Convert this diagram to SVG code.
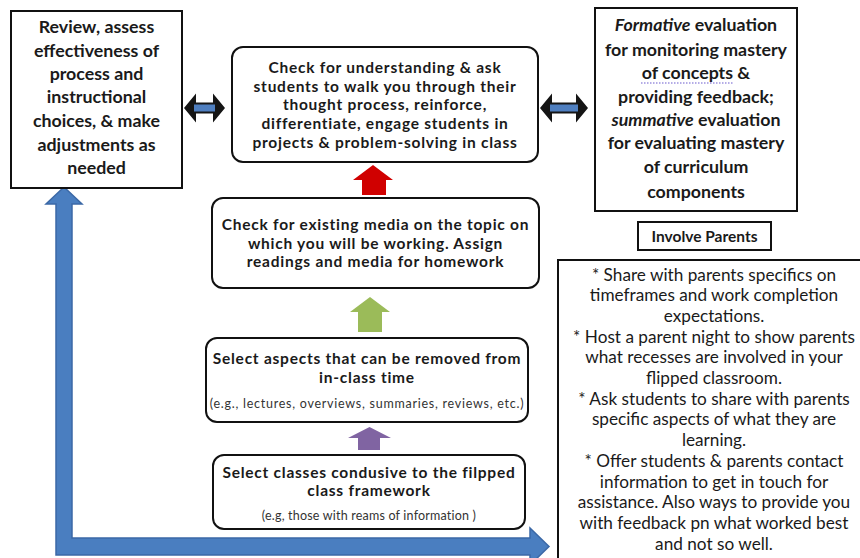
<svg xmlns="http://www.w3.org/2000/svg" width="860" height="558" viewBox="0 0 860 558">
<style>
.box{fill:#fff;stroke:#111;stroke-width:2}
.b{font-family:Lato,"Open Sans","Liberation Sans",sans-serif;font-weight:bold;font-size:15.5px;letter-spacing:0.75px;fill:#1a1a1a;text-anchor:middle}
.bl{font-size:17.8px;letter-spacing:0}
.ip{font-size:15.5px;letter-spacing:0}
.r{font-family:Lato,"Open Sans","Liberation Sans",sans-serif;font-size:17.2px;fill:#1a1a1a;text-anchor:middle}
.s{font-family:Lato,"Open Sans","Liberation Sans",sans-serif;font-size:12.5px;letter-spacing:0.75px;fill:#333;text-anchor:middle}
.s2{letter-spacing:0.2px}
.dbl{fill:#151515}
.dblin{fill:#4f7fc0}
</style>
<rect width="860" height="558" fill="#fff"/>
<g id="connectors">
  <path d="M64,187 L82,204 L72,204 L72,538 L530,538 L530,528 L549,546.5 L530,565 L530,555 L56,555 L56,204 L46,204 Z" fill="#4a7ec0" stroke="#3b68a6" stroke-width="1.5"/>
  <polygon points="184,108 196,93.5 196,102.5 213,102.5 213,93.5 225,108 213,122.5 213,113.5 196,113.5 196,122.5" class="dbl"/>
  <rect x="194" y="104.5" width="21" height="7" class="dblin"/>
  <polygon points="540,108 552,93.5 552,102.5 576,102.5 576,93.5 588,108 576,122.5 576,113.5 552,113.5 552,122.5" class="dbl"/>
  <rect x="550" y="104.5" width="28" height="7" class="dblin"/>
  <polygon points="373,165 393,180 386,180 386,195 362,195 362,180 353,180" fill="#d00000"/>
  <polygon points="370,297 390,312 382,312 382,332 358,332 358,312 350,312" fill="#9bbb59"/>
  <polygon points="369.5,427 391,438 380,438 380,450 358,450 358,438 348,438" fill="#8064a2"/>
</g>
<g id="review">
  <rect x="11" y="11" width="171" height="177" class="box"/>
  <text class="b bl" x="96.5" y="33">Review, assess</text>
  <text class="b bl" x="96.5" y="56.5">effectiveness of</text>
  <text class="b bl" x="96.5" y="79.5">process and</text>
  <text class="b bl" x="96.5" y="103">instructional</text>
  <text class="b bl" x="96.5" y="126.5">choices, &amp; make</text>
  <text class="b bl" x="96.5" y="150.5">adjustments as</text>
  <text class="b bl" x="96.5" y="174">needed</text>
</g>
<g id="check-understanding">
  <rect x="232" y="47" width="306" height="115" rx="11" class="box"/>
  <text class="b" x="385" y="72.5">Check for understanding &amp; ask</text>
  <text class="b" x="385" y="91.5">students to walk you through their</text>
  <text class="b" x="385" y="110">thought process, reinforce,</text>
  <text class="b" x="385" y="128.5">differentiate, engage students in</text>
  <text class="b" x="385" y="147.5">projects &amp; problem-solving  in class</text>
</g>
<g id="evaluation">
  <rect x="595" y="8" width="202" height="203" class="box"/>
  <text class="b bl" x="696" y="31"><tspan font-style="italic">Formative</tspan> evaluation</text>
  <text class="b bl" x="696" y="56">for monitoring mastery</text>
  <text class="b bl" x="696" y="79">of  concepts &amp;</text>
  <line x1="641" y1="83" x2="733" y2="83" stroke="#6a5acd" stroke-width="1.2" stroke-dasharray="1.5,1.5"/>
  <text class="b bl" x="696" y="103">providing feedback;</text>
  <text class="b bl" x="696" y="126"><tspan font-style="italic">summative</tspan> evaluation</text>
  <text class="b bl" x="696" y="149">for evaluating  mastery</text>
  <text class="b bl" x="696" y="173">of curriculum</text>
  <text class="b bl" x="696" y="197.5">components</text>
</g>
<g id="involve-parents">
  <rect x="638" y="222" width="133" height="28" class="box"/>
  <text class="b ip" x="704.5" y="241.5">Involve Parents</text>
</g>
<g id="media">
  <rect x="212" y="198" width="327" height="90" rx="11" class="box"/>
  <text class="b" x="375.5" y="229.5">Check for existing media on the topic on</text>
  <text class="b" x="375.5" y="248.5">which you will be working.  Assign</text>
  <text class="b" x="375.5" y="267">readings and media for homework</text>
</g>
<g id="select-aspects">
  <rect x="206" y="338" width="322" height="84" rx="11" class="box"/>
  <text class="b" x="367" y="363.5">Select aspects that can be removed from</text>
  <text class="b" x="367" y="382.5">in-class time</text>
  <text class="s" x="367" y="408">(e.g., lectures, overviews, summaries, reviews, etc.)</text>
</g>
<g id="select-classes">
  <rect x="213" y="455" width="312" height="74" rx="11" class="box"/>
  <text class="b" x="369" y="477.5">Select classes condusive to the filpped</text>
  <text class="b" x="369" y="496">class framework</text>
  <text class="s s2" x="369" y="519.5">(e.g, those with reams of information )</text>
</g>
<g id="parents-list">
  <rect x="558" y="260" width="310" height="310" class="box"/>
  <text class="r" x="714" y="280.5">* Share with parents specifics on</text>
  <text class="r" x="714" y="301.2">timeframes and work completion</text>
  <text class="r" x="714" y="321.9">expectations.</text>
  <text class="r" x="714" y="342.6">* Host a parent night to show parents</text>
  <text class="r" x="714" y="363.3">what recesses are involved in your</text>
  <text class="r" x="714" y="384">flipped classroom.</text>
  <text class="r" x="714" y="404.7">* Ask students to share with parents</text>
  <text class="r" x="714" y="425.4">specific aspects of what they are</text>
  <text class="r" x="714" y="446.1">learning.</text>
  <text class="r" x="714" y="466.8">* Offer students &amp; parents contact</text>
  <text class="r" x="714" y="487.5">information to get in touch for</text>
  <text class="r" x="714" y="508.2">assistance. Also ways to provide you</text>
  <text class="r" x="714" y="528.9">with feedback pn what worked best</text>
  <text class="r" x="714" y="549.6">and not so well.</text>
</g>
</svg>
